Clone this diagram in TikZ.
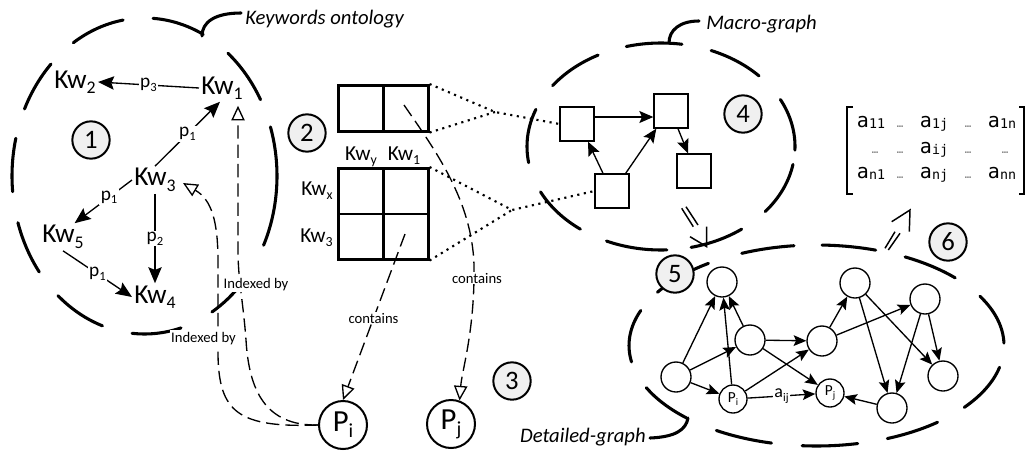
\documentclass[tikz,border=0pt]{standalone}
\usepackage{fontspec}
\setmainfont{Carlito}
\newfontfamily\monof{DejaVu Sans Mono}
\usepackage{graphicx}
\usetikzlibrary{arrows.meta,calc}
\newcommand{\sbs}[1]{\raisebox{-0.2em}{\scalebox{0.65}{#1}}}
\newcommand{\fsz}[1]{\fontsize{#1}{#1}\selectfont}
\newcommand{\mel}[1]{a\raisebox{-1pt}{\fsz{10}#1}}
\newcommand{\dasharcs}[4]{\foreach \a/\b in {#4}{\draw[ell] ($(#1)+(\a:#2 and #3)$) arc[start angle=\a, end angle=\b, x radius=#2, y radius=#3];}}
\tikzset{
 ell/.style={line width=2.3pt, line cap=round},
 hook/.style={line width=2.3pt, line cap=round},
 kw/.style={inner sep=1.5pt, font=\fsz{20.5}},
 kwb/.style={inner sep=0pt, font=\fsz{16}},
 lbl/.style={fill=white, inner sep=1pt, font=\fsz{14.5}},
 lbld/.style={fill=white, inner sep=1pt, font=\fsz{13.5}},
 small/.style={fill=white, inner sep=1pt, font=\fsz{11}},
 arrK/.style={line width=1pt, -{Stealth[length=12pt,width=10pt,inset=2pt]}},
 arrM/.style={line width=1pt, -{Stealth[length=10.5pt,width=9pt,inset=2pt]}},
 arrD/.style={line width=1pt, -{Stealth[length=9.5pt,width=8pt,inset=1.8pt]}},
 num/.style={circle, draw, line width=1.5pt, fill=black!6, minimum size=28pt, inner sep=0pt, font=\fsz{20}},
 idx/.style={line width=1pt, dash pattern=on 10pt off 4.5pt, -{Triangle[open,length=11pt,width=10pt]}},
 grd/.style={draw, line width=1.9pt, inner sep=0pt},
 dotl/.style={line width=1.6pt, dash pattern=on 1.6pt off 3.4pt},
 msq/.style={draw, line width=1pt, minimum size=25.5pt, inner sep=0pt},
 dn/.style={circle, draw, line width=1pt, minimum size=22.5pt, inner sep=0pt, font=\fsz{11}},
 dnp/.style={circle, draw, line width=1pt, minimum size=21pt, inner sep=0pt, font=\fsz{11.5}},
 bigp/.style={circle, draw, line width=1.5pt, minimum size=36pt, inner sep=0pt, font=\fsz{23}},
 call/.style={font=\fsz{15.5}\itshape, inner sep=0pt},
 darr/.style={line width=1.1pt},
 mat/.style={font=\monof\fsz{15}, inner sep=0pt, anchor=base},
 md/.style={font=\monof\fsz{8}, text=black!55, inner sep=0pt, anchor=base},
}
\begin{document}
\begin{tikzpicture}[x=0.75pt,y=-0.75pt]
\useasboundingbox (0,0) rectangle (1025,461);
% ---------- dashed ellipses
\coordinate (e1) at (144.5,176);
\coordinate (e4) at (661,146.5);
\coordinate (e5) at (816.5,345.5);
\dasharcs{e1}{132.5}{158}{237.5/260.7, 273.7/296.3, 309/331.1, 341.9/386, 42/59.4, 74/95.4, 108.5/130.8, 142.6/162.8, 174.3/193.8, 205.1/225.1}
\dasharcs{e4}{134}{103.5}{255/279, 292/317, 333/362, 10/39, 53/77, 87.5/114, 127/154, 171/201, 216/242}
\dasharcs{e5}{187.5}{100.5}{246.5/263.1, 271.7/288.4, 298.2/317.7, 330.7/358.6, 12.5/38, 49.8/67.8, 77.3/94.4, 103.9/122.3, 133.9/155.2, 170.6/200.4, 212/234.8}
% ---------- callouts
\node[call, anchor=base west] (kwo) at (245,24) {Keywords ontology};
\node[call, anchor=base west] (mgl) at (706,29) {Macro-graph};
\node[call, anchor=base east] (dgl) at (646,442) {Detailed-graph};
\coordinate (h1) at (202,36);
\coordinate (h2) at (669,43);
\coordinate (h3) at (688,418);
\draw[hook] (h1) .. controls (202,22) and (215,13) .. ($(kwo.base west)+(-4,-11)$);
\draw[hook] (h2) .. controls (669,30) and (680,21) .. ($(mgl.base west)+(-7,-8)$);
\draw[hook] (h3) .. controls (686,430) and (675,437) .. ($(dgl.base east)+(4,-4)$);
% ---------- keyword ontology
\node[kw] (kw1) at (222,88) {Kw\sbs{1}};
\node[kw] (kw2) at (75,82) {Kw\sbs{2}};
\node[kw] (kw3) at (155,180) {Kw\sbs{3}};
\node[kw] (kw4) at (155,297) {Kw\sbs{4}};
\node[kw] (kw5) at (63,237) {Kw\sbs{5}};
\draw[arrK] (kw1.west) -- (kw2.east) node[lbl, midway] {p\sbs{3}};
\draw[arrK] (kw3.north) -- ($(kw1.south)+(-2,0)$) node[lbl, midway] {p\sbs{1}};
\draw[arrK] (kw3.west) -- (kw5.50) node[lbl, pos=0.4] {p\sbs{1}};
\draw[arrK] (kw3.south) -- (kw4.north) node[lbl, midway] {p\sbs{2}};
\draw[arrK] (kw5.south) -- (kw4.west) node[lbl, midway] {p\sbs{1}};
% ---------- tables
\node[grd, minimum width=67.5pt, minimum height=34.5pt, anchor=north west] (tb) at (337,84) {};
\draw[line width=1.9pt] (tb.north) -- (tb.south);
\node[grd, minimum width=67.5pt, minimum height=68.25pt, anchor=north west] (gr) at (337,167) {};
\draw[line width=1.9pt] (gr.north) -- (gr.south);
\draw[line width=1.9pt] (gr.west) -- (gr.east);
\node[kwb, anchor=base] (ky) at (361,160) {Kw\sbs{y}};
\node[kwb, anchor=base] (k1b) at (404,160) {Kw\sbs{1}};
\node[kwb, anchor=base east] (kx) at (333,195) {Kw\sbs{x}};
\node[kwb, anchor=base east] (k3b) at (333,242) {Kw\sbs{3}};
% ---------- macro graph
\node[msq] (mA) at (577,124) {};
\node[msq] (mB) at (671,111) {};
\node[msq] (mC) at (694,171) {};
\node[msq] (mD) at (612,191) {};
\draw[arrM] ([yshift=5.25pt]mA.east) -- ([yshift=-4.5pt]mB.west);
\draw[arrM] ([xshift=-6.75pt]mD.north) -- ([xshift=8.25pt]mA.south);
\draw[arrM] ([xshift=-3pt]mD.north east) -- ([xshift=2.25pt]mB.south west);
\draw[arrM] ([xshift=5.25pt]mB.south) -- ([xshift=-4.5pt]mC.north);
\coordinate (cv1) at (495,112);
\coordinate (cv2) at (512,210);
\draw[dotl] (tb.north east) -- (cv1) -- (mA.west);
\draw[dotl] (tb.south east) -- (cv1);
\draw[dotl] (gr.north east) -- (cv2) -- (mD.west);
\draw[dotl] (gr.south east) -- (cv2);
% ---------- documents
\node[bigp] (pi) at (343,425) {P\sbs{i}};
\node[bigp] (pj) at (451,424) {P\sbs{j}};
\coordinate (cs1) at (404,105);
\coordinate (cs2) at (405,234);
\draw[idx] (cs1) .. controls (435,150) and (472,200) .. (474,265) .. controls (475,330) and (462,370) .. (pj.70);
\draw[idx] (cs2) -- (pi.north);
\draw[idx] (pi.west) .. controls (265,426) and (249,390) .. (246,340) .. controls (243,300) and (238,280) .. (238,250) -- ($(kw1.south east)+(-7,4)$);
\draw[idx] (pi.west) .. controls (238,428) and (219,412) .. (218,355) -- (218,262) .. controls (218,222) and (212,200) .. ($(kw3.east)+(5,3)$);
% ---------- detailed graph
\node[dn] (n1) at (722,282) {};
\node[dn] (n2) at (750,340) {};
\node[dn] (n3) at (676,377) {};
\node[dnp] (dpi) at (733,399) {P\sbs{i}};
\node[dnp] (dpj) at (830,393) {P\sbs{j}};
\node[dn] (n4) at (822,341) {};
\node[dn] (n5) at (855,283) {};
\node[dn] (n6) at (925,299) {};
\node[dn] (n7) at (892,408) {};
\node[dn] (n8) at (943,376) {};
\draw[arrD] (n3) -- (n1);
\draw[arrD] (dpi) -- (n1);
\draw[arrD] (n2) -- (n1);
\draw[arrD] (n3) -- (n2);
\draw[arrD] (n3) -- (dpi);
\draw[arrD] (dpi) -- (dpj) node[lbld, midway] {a\sbs{ij}};
\draw[arrD] (dpi) -- (n4);
\draw[arrD] (n2) -- (n4);
\draw[arrD] (n2) -- (dpj);
\draw[arrD] (n4) -- (n5);
\draw[arrD] (n4) -- (n6);
\draw[arrD] (n5) -- (n7);
\draw[arrD] (n5) -- (n8);
\draw[arrD] (n6) -- (n7);
\draw[arrD] (n6) -- (n8);
\draw[arrD] (n7) -- (dpj);
% ---------- double arrows
\draw[darr] (681.7,208.3) -- (693.3,226.7);
\draw[darr] (686,206.7) -- (698,225);
\draw[darr] (690,236.7) -- (706.7,246.7) -- (706.7,226.7);
\draw[darr] (885,248.3) -- (895,231.7);
\draw[darr] (888.3,250) -- (900,233.3);
\draw[darr] (891.7,221.7) -- (910,210) -- (909.3,231.7);
% ---------- matrix
\draw[line width=1.3pt] (853,107) -- (847,107) -- (847,194) -- (853,194);
\draw[line width=1.3pt] (1019,107) -- (1024,107) -- (1024,194) -- (1019,194);
\node[mat] (m11) at (871,127) {\mel{11}};
\node[md]  (m12) at (900,127) {…};
\node[mat] (m13) at (934,127) {\mel{1j}};
\node[md]  (m14) at (968,127) {…};
\node[mat] (m15) at (1002,127) {\mel{1n}};
\node[md]  (m21) at (875,153) {…};
\node[md]  (m22) at (900,153) {…};
\node[mat] (m23) at (934,153) {\mel{ij}};
\node[md]  (m24) at (968,153) {…};
\node[md]  (m25) at (1005,153) {…};
\node[mat] (m31) at (871,178) {\mel{n1}};
\node[md]  (m32) at (900,178) {…};
\node[mat] (m33) at (934,178) {\mel{nj}};
\node[md]  (m34) at (968,178) {…};
\node[mat] (m35) at (1002,178) {\mel{nn}};
% ---------- numbers
\node[num] (c1) at (91,140) {1};
\node[num] (c2) at (307,133) {2};
\node[num] (c3) at (512,381) {3};
\node[num] (c4) at (743,114) {4};
\node[num] (c5) at (675,274) {5};
\node[num] (c6) at (948,242) {6};
% ---------- connector labels
\node[small, anchor=base] (ib1) at (256,288) {Indexed by};
\node[small, anchor=base] (ib2) at (203.5,342) {Indexed by};
\node[small, anchor=base] (ct1) at (477,283) {contains};
\node[small, anchor=base] (ct2) at (373.5,323) {contains};
\end{tikzpicture}
\end{document}
